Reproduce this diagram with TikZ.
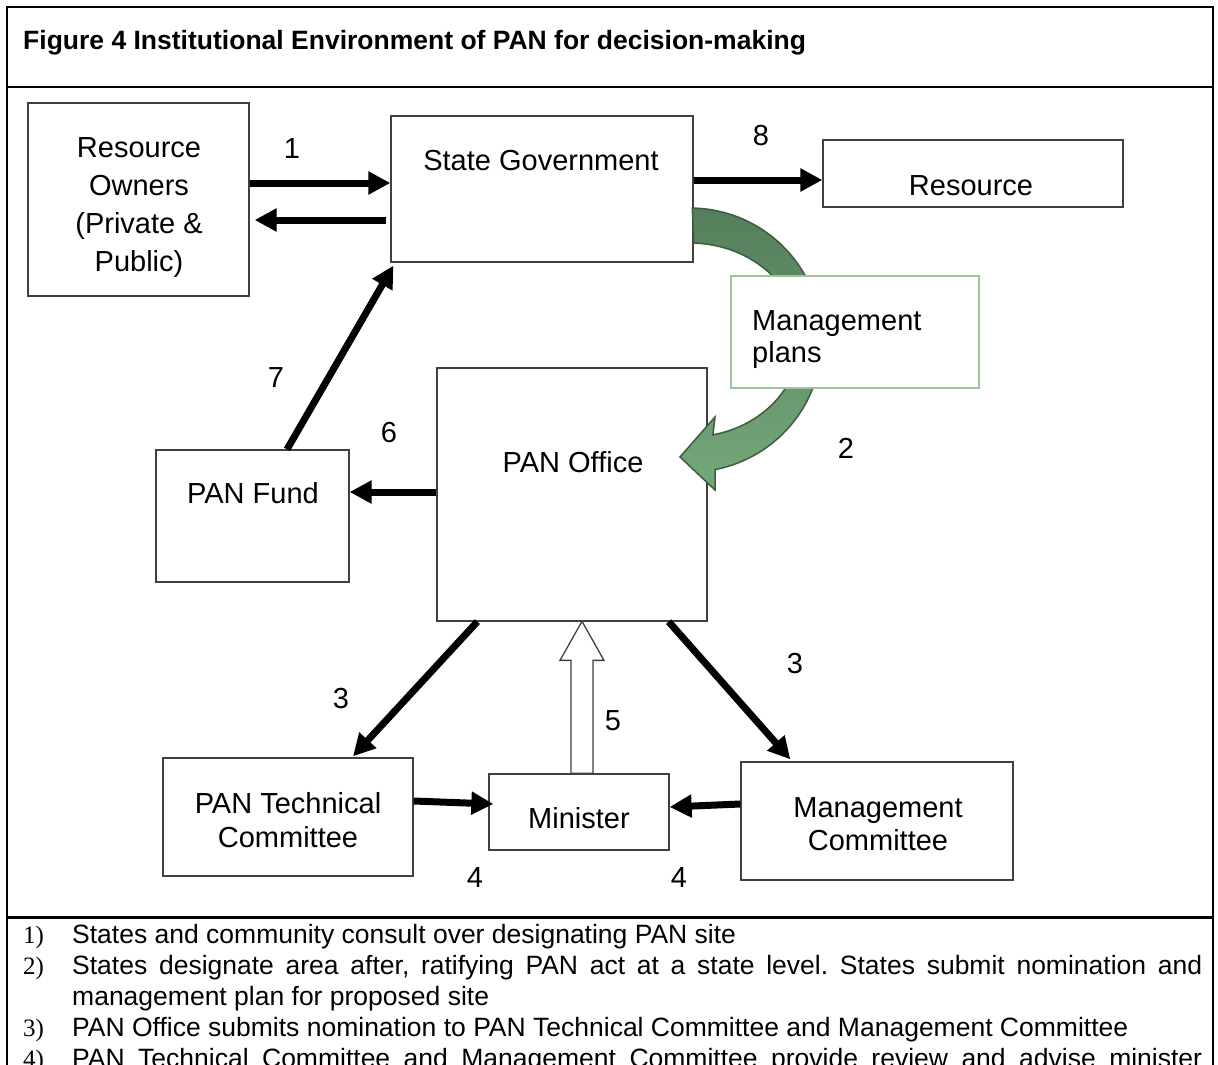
\documentclass[tikz,border=0pt]{standalone}
\usepackage{fontspec}
\setmainfont{Liberation Sans}
\newfontfamily\numserif{Liberation Serif}
\frenchspacing
\usetikzlibrary{arrows.meta}
\definecolor{boxgray}{HTML}{404040}
\definecolor{plandark}{HTML}{567E5C}
\definecolor{planlight}{HTML}{74A87A}
\definecolor{planedge}{HTML}{3B5E3E}
\definecolor{planbox}{HTML}{9CC59C}
\tikzstyle{box}=[draw=boxgray, line width=1.3pt, fill=white, inner sep=0pt]
\tikzstyle{txt}=[inner sep=0pt, anchor=base, align=center, font=\fontsize{29}{34}\selectfont]
\tikzstyle{tag}=[inner sep=0pt, anchor=base, font=\fontsize{29}{34}\selectfont]
\tikzstyle{flow}=[-{Triangle[length=22pt,width=22pt]}, line width=7pt, black]
\tikzstyle{item}=[inner sep=0pt, anchor=base west, font=\fontsize{26.5}{31}\selectfont]
\tikzstyle{itemno}=[inner sep=0pt, anchor=base west, font=\numserif\fontsize{25}{31}\selectfont]

\begin{document}
\begin{tikzpicture}[x=1pt, y=-1pt]
\useasboundingbox (0,0) rectangle (1218,1065);
% Frame
    \draw[line width=2.5pt] (7,1075) -- (7,7) -- (1213,7) -- (1213,1075);
    \draw[line width=2.5pt] (7,87) -- (1213,87);
    \draw[line width=3pt] (7,917) -- (1213,917);
    \node[item, font=\bfseries\fontsize{26.5}{31}\selectfont] (title) at (23,50) {Figure 4 Institutional Environment of PAN for decision-making};
% Boxes
    \node[box, minimum width=221, minimum height=193] (owners) at (138.5,199.5) {};
    \node[box, minimum width=302, minimum height=146] (sg) at (542,189) {};
    \node[box, minimum width=300, minimum height=67] (res) at (973,173.5) {};
    \node[box, minimum width=270, minimum height=253] (office) at (572,494.5) {};
    \node[box, minimum width=193, minimum height=132] (fund) at (252.5,516) {};
    \node[box, minimum width=250, minimum height=118] (tech) at (288,817) {};
    \node[box, minimum width=180, minimum height=76] (minister) at (579,812) {};
    \node[box, minimum width=272, minimum height=118] (mc) at (877,821) {};
% Box texts (multi-line ones sit on their last baseline)
    \node[txt, font=\fontsize{29}{38}\selectfont] (ownersT) at (139,271) {Resource\\Owners\\(Private \&\\Public)};
    \node[txt] (sgT) at (541,170) {State Government};
    \node[txt] (resT) at (971,195) {Resource};
    \node[txt] (officeT) at (573,472) {PAN Office};
    \node[txt] (fundT) at (253,503) {PAN Fund};
    \node[txt] (techT) at (288,847) {PAN Technical\\Committee};
    \node[txt] (ministerT) at (579,828) {Minister};
    \node[txt, font=\fontsize{29}{33}\selectfont] (mcT) at (878,850) {Management\\Committee};
% Management plans going down to the office
    \shadedraw[top color=plandark, bottom color=planlight, draw=planedge, line width=1.5pt]
        plot[domain=-89:79, samples=50] ({690+132*cos(\x)}, {340+132*sin(\x)})
        -- (715,490) -- (680,457) -- (715,417)
        -- plot[domain=78:-88, samples=50] ({690+110*cos(\x)}, {340+97*sin(\x)}) -- cycle;
    \node[box, draw=planbox, minimum width=248, minimum height=112] (plans) at (855,332) {};
    \node[txt, anchor=base west, align=left, font=\fontsize{29}{32}\selectfont] (plansT) at (752,362) {Management\\plans};
% Arrows
    \draw[flow] ([yshift=16.5pt]owners.east) -- ([yshift=6pt]sg.west);
    \draw[flow, shorten <=4pt] ([yshift=-31pt]sg.west) -- ([xshift=5pt,yshift=-20.5pt]owners.east);
    \draw[flow] ([yshift=9pt]sg.east) -- ([yshift=-6.5pt]res.west);
    \draw[flow] ([xshift=34.5pt]fund.north) -- ([xshift=3pt,yshift=-3pt]sg.south west);
    \draw[flow] ([yshift=2.5pt]office.west) -- ([yshift=24pt]fund.east);
    \draw[flow] ([xshift=41pt]office.south west) -- ([xshift=65pt,yshift=1pt]tech.north);
    \draw[flow] ([xshift=-39pt]office.south east) -- ([xshift=50pt,yshift=2pt]mc.north west);
    \draw[flow] ([yshift=16pt]tech.east) -- ([xshift=5pt,yshift=8pt]minister.west);
    \draw[flow] ([yshift=17pt]mc.west) -- ([yshift=5pt]minister.east);
    \draw[boxgray, line width=1.3pt, fill=white] ([xshift=-8pt]minister.north) -- ++(0,-113) -- ++(-11,0)
        -- ++(22,-39) -- ++(22,39) -- ++(-11,0) -- ++(0,113) -- cycle;
% Step numbers
    \node[tag] (n1) at (292,158) {1};
    \node[tag] (n8) at (761,145) {8};
    \node[tag] (n7) at (276,387) {7};
    \node[tag] (n6) at (389,442) {6};
    \node[tag] (n2) at (846,458) {2};
    \node[tag] (n3a) at (341,708) {3};
    \node[tag] (n3b) at (795,673) {3};
    \node[tag] (n5) at (613,730) {5};
    \node[tag] (n4a) at (475,887) {4};
    \node[tag] (n4b) at (679,887) {4};
% Notes
    \node[itemno] (i1) at (23,943) {1)};
    \node[item] (t1) at (72,943) {States and community consult over designating PAN site};
    \node[itemno] (i2) at (23,974) {2)};
    \node[item] (t2) at (72,974) {\makebox[1130pt][s]{States designate area after, ratifying PAN act at a state level. States submit nomination and}};
    \node[item] (t2b) at (72,1005) {management plan for proposed site};
    \node[itemno] (i3) at (23,1036) {3)};
    \node[item] (t3) at (72,1036) {PAN Office submits nomination to PAN Technical Committee and Management Committee};
    \node[itemno] (i4) at (23,1067) {4)};
    \node[item] (t4) at (72,1067) {\makebox[1130pt][s]{PAN Technical Committee and Management Committee provide review and advise minister}};
\end{tikzpicture}
\end{document}
